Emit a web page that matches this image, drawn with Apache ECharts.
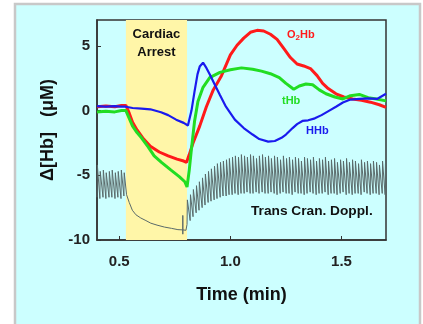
<!DOCTYPE html>
<html><head><meta charset="utf-8">
<script src="https://cdn.jsdelivr.net/npm/echarts@6/dist/echarts.min.js"></script>
<style>html,body{margin:0;padding:0;background:#fff}#c{width:423px;height:324px}</style>
</head><body><div id="c"></div>
<script>
// ---- data ----
const xTicks = [0.5, 1.0, 1.5];
const yTicks = [-10, -5, 0, 5];
const arrestRange = [0.53, 0.805];

const o2hb = [[0.40,0.30],[0.44,0.35],[0.48,0.30],[0.51,0.40],[0.53,0.40],[0.545,-0.20],[0.56,-0.90],[0.58,-1.50],[0.61,-2.20],[0.64,-2.75],[0.68,-3.20],[0.72,-3.50],[0.76,-3.75],[0.79,-3.90],[0.803,-4.00],[0.815,-3.40],[0.832,-2.50],[0.862,-1.20],[0.892,0.30],[0.923,1.60],[0.96,2.70],[1.00,4.30],[1.03,5.05],[1.06,5.60],[1.09,6.05],[1.12,6.20],[1.15,6.15],[1.18,5.90],[1.21,5.50],[1.24,4.80],[1.27,4.10],[1.30,3.60],[1.33,3.45],[1.36,3.25],[1.39,2.70],[1.415,2.10],[1.44,1.70],[1.475,1.30],[1.51,1.05],[1.55,0.90],[1.59,0.80],[1.63,0.65],[1.67,0.45],[1.70,0.25]];

const thb = [[0.40,-0.10],[0.44,-0.05],[0.48,-0.10],[0.51,0.00],[0.53,0.00],[0.545,-0.60],[0.56,-1.20],[0.58,-1.70],[0.60,-2.10],[0.63,-2.80],[0.657,-3.50],[0.69,-4.00],[0.733,-4.60],[0.77,-5.10],[0.795,-5.50],[0.805,-5.90],[0.815,-4.60],[0.824,-3.10],[0.839,-0.80],[0.854,0.70],[0.877,1.80],[0.907,2.55],[0.953,2.95],[1.00,3.15],[1.05,3.30],[1.10,3.20],[1.14,3.05],[1.18,2.85],[1.22,2.55],[1.25,2.10],[1.285,1.65],[1.31,1.90],[1.34,2.05],[1.37,2.00],[1.40,1.60],[1.43,1.30],[1.47,1.05],[1.506,0.90],[1.54,1.15],[1.58,1.25],[1.62,1.00],[1.657,0.90],[1.70,0.75]];

const hhb = [[0.40,0.35],[0.44,0.30],[0.48,0.35],[0.51,0.30],[0.53,0.30],[0.56,0.20],[0.60,0.15],[0.64,0.10],[0.688,-0.13],[0.72,-0.35],[0.756,-0.70],[0.79,-0.95],[0.809,-1.15],[0.825,0.00],[0.839,1.50],[0.852,2.80],[0.862,3.40],[0.877,3.70],[0.892,3.30],[0.907,2.80],[0.93,2.00],[0.953,1.20],[0.98,0.30],[1.02,-0.70],[1.06,-1.35],[1.10,-1.85],[1.13,-2.20],[1.17,-2.40],[1.20,-2.35],[1.23,-2.10],[1.25,-1.85],[1.28,-1.35],[1.30,-1.05],[1.324,-0.80],[1.35,-0.75],[1.38,-0.60],[1.41,-0.35],[1.445,0.00],[1.475,0.30],[1.506,0.62],[1.54,0.85],[1.58,0.90],[1.62,0.95],[1.66,0.90],[1.70,1.30]];

// Trans-cranial Doppler: beat times, systolic peaks, diastolic troughs
const dopPreT      = [0.400,0.413,0.427,0.440,0.454,0.467,0.481,0.494,0.508,0.521];
const dopPrePeak   = [-4.2,-4.7,-4.6,-4.8,-4.7,-4.6,-4.8,-4.7,-4.6,-4.8];
const dopPreTrough = [-6.7,-6.8,-6.7,-6.8,-6.7,-6.7,-6.8,-6.7,-6.8,-6.6];
const dopArrest = [[0.533,-6.5],[0.545,-7.1],[0.559,-7.7],[0.575,-8.05],[0.597,-8.3],[0.62,-8.5],[0.642,-8.7],[0.67,-8.85],[0.703,-9.0],[0.735,-9.1],[0.764,-9.2],[0.786,-9.22],[0.786,-8.1],[0.786,-9.55],[0.786,-9.22],[0.800,-9.25]];
const dopPostT = [0.805,0.819,0.832,0.846,0.859,0.873,0.886,0.900,0.913,0.927,
  0.940,0.954,0.967,0.981,0.994,1.008,1.021,1.035,1.048,1.062,
  1.075,1.089,1.102,1.116,1.129,1.143,1.156,1.170,1.183,1.197,
  1.210,1.224,1.237,1.251,1.264,1.278,1.291,1.305,1.318,1.332,
  1.345,1.359,1.372,1.386,1.399,1.413,1.426,1.440,1.453,1.467,
  1.480,1.494,1.507,1.521,1.534,1.548,1.561,1.575,1.588,1.602,
  1.615,1.629,1.642,1.656,1.669,1.683,1.696];
const dopPostPeak = [-6.9,-6.5,-6.1,-5.8,-5.5,-5.2,-4.9,-4.7,-4.5,-4.3,
  -4.1,-4.0,-3.9,-3.8,-3.7,-3.6,-3.5,-3.6,-3.4,-3.5,
  -3.6,-3.4,-3.5,-3.7,-3.5,-3.4,-3.6,-3.5,-3.7,-3.5,
  -3.6,-3.8,-3.5,-3.7,-3.6,-3.8,-3.6,-3.7,-3.9,-3.6,
  -3.7,-3.8,-3.6,-3.9,-3.7,-3.8,-3.6,-3.9,-3.8,-3.7,
  -4.0,-3.8,-3.9,-3.7,-4.0,-3.8,-3.9,-4.1,-3.8,-4.0,
  -3.9,-4.1,-3.9,-4.0,-4.2,-3.9,-4.1];
const dopPostTrough = [-8.8,-8.5,-8.2,-7.9,-7.7,-7.5,-7.3,-7.1,-7.0,-6.9,
  -6.8,-6.7,-6.6,-6.6,-6.5,-6.5,-6.4,-6.5,-6.4,-6.4,
  -6.3,-6.4,-6.4,-6.3,-6.4,-6.3,-6.4,-6.4,-6.3,-6.4,
  -6.5,-6.4,-6.3,-6.4,-6.4,-6.5,-6.3,-6.4,-6.4,-6.5,
  -6.4,-6.3,-6.4,-6.5,-6.4,-6.4,-6.3,-6.5,-6.4,-6.4,
  -6.5,-6.4,-6.3,-6.5,-6.4,-6.5,-6.4,-6.4,-6.5,-6.3,
  -6.4,-6.5,-6.4,-6.4,-6.5,-6.4,-6.5];

// ---- build doppler trace (trough at beat time, quick systolic upstroke) ----
const RISE = 0.0015;
const dop = [];
dopPreT.forEach((t,i)=>{ dop.push([t, dopPreTrough[i]]); dop.push([t+RISE, dopPrePeak[i]]); });
dopArrest.forEach(p=>dop.push(p));
dopPostT.forEach((t,i)=>{ dop.push([t, dopPostTrough[i]]); dop.push([t+RISE, dopPostPeak[i]]); });

const chart = echarts.init(document.getElementById('c'), null, {renderer:'canvas'});
const FONT = '"Liberation Sans", Arial, sans-serif';
const lab = (text, x, y, color, size) => ({type:'text', x, y, z:50,
  style:{text, fill:color, font:`bold ${size}px ${FONT}`, textVerticalAlign:'middle'}});

chart.setOption({
  backgroundColor:'#ffffff',
  animation:false,
  graphic:[
    {type:'rect', z:-10, shape:{x:15, y:4, width:405, height:340},
     style:{fill:'#ccffff', stroke:'#c8c8c8', lineWidth:2.5}},
    {type:'text', x:287, y:35, z:50, style:{
      rich:{a:{fill:'#ff1a1a', font:`bold 11px ${FONT}`}, s:{fill:'#ff1a1a', font:`bold 8px ${FONT}`, verticalAlign:'bottom', padding:[6,0,0,0]}},
      text:'{a|O}{s|2}{a|Hb}', textVerticalAlign:'middle'}},
    lab('tHb', 282, 101, '#22dd22', 11),
    lab('HHb', 306, 131, '#1a1aee', 11),
    lab('Trans Cran. Doppl.', 251, 211, '#111', 13.7)
  ],
  grid:{left:97, top:20, right:37, bottom:84, show:true, borderColor:'#333', borderWidth:1.5, backgroundColor:'transparent'},
  xAxis:{type:'value', min:0.4, max:1.7,
    name:'Time (min)', nameLocation:'middle', nameGap:46,
    nameTextStyle:{fontFamily:FONT, fontWeight:'bold', fontSize:18, color:'#111'},
    axisLine:{show:true, onZero:false, lineStyle:{color:'#333', width:1.5}},
    axisTick:{show:true, inside:true, length:4, customValues:xTicks, lineStyle:{color:'#333', width:1}},
    axisLabel:{customValues:xTicks, margin:14, formatter:v=>v.toFixed(1),
      fontFamily:FONT, fontWeight:'bold', fontSize:15, color:'#222'},
    splitLine:{show:false}},
  yAxis:{type:'value', min:-10, max:7,
    name:'Δ[Hb]   (μM)', nameLocation:'middle', nameGap:39, nameRotate:90,
    nameTextStyle:{fontFamily:FONT, fontWeight:'bold', fontSize:18, color:'#111'},
    axisLine:{show:true, onZero:false, lineStyle:{color:'#333', width:1.5}},
    axisTick:{show:true, inside:true, length:4, customValues:yTicks, lineStyle:{color:'#333', width:1}},
    axisLabel:{customValues:yTicks, margin:7,
      fontFamily:FONT, fontWeight:'bold', fontSize:15, color:'#222'},
    splitLine:{show:false}},
  series:[
    {type:'line', name:'arrest', data:[], z:0, silent:true,
     markArea:{silent:true, itemStyle:{color:'#fff6a8', opacity:1},
       label:{show:true, position:'insideTop', distance:5, formatter:'Cardiac\nArrest',
         fontFamily:FONT, fontWeight:'bold', fontSize:13, lineHeight:18, color:'#111'},
       data:[[{xAxis:arrestRange[0]},{xAxis:arrestRange[1]}]]}},
    {type:'line', name:'TCD', data:dop, showSymbol:false, z:2,
     lineStyle:{color:'#5a6a6a', width:1}},
    {type:'line', name:'O2Hb', data:o2hb, showSymbol:false, z:3,
     lineStyle:{color:'#ff1a1a', width:3}},
    {type:'line', name:'tHb', data:thb, showSymbol:false, z:4,
     lineStyle:{color:'#22dd22', width:3}},
    {type:'line', name:'HHb', data:hhb, showSymbol:false, z:5,
     lineStyle:{color:'#1a1aee', width:2.2}}
  ]
});
</script></body></html>
